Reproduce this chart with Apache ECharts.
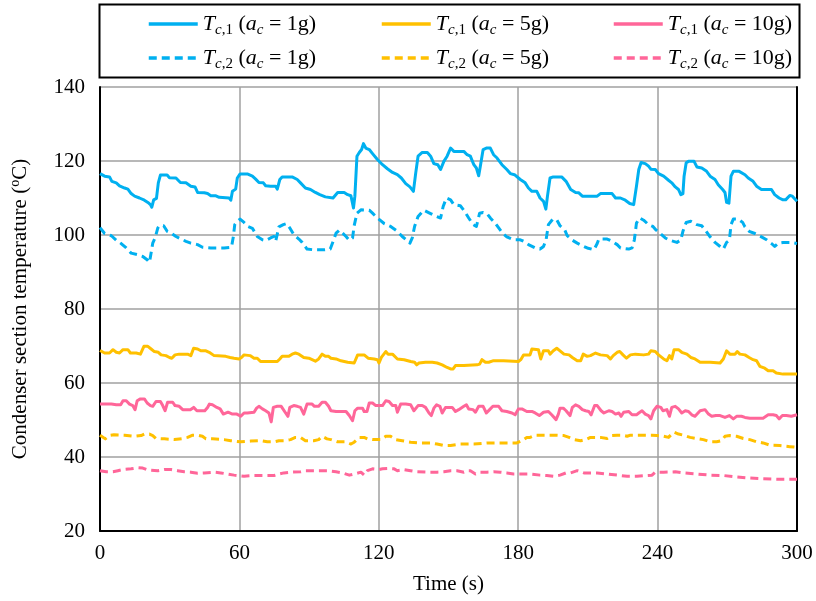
<!DOCTYPE html>
<html><head><meta charset="utf-8">
<script src="https://cdn.jsdelivr.net/npm/echarts@6/dist/echarts.min.js"></script>
<style>html,body{margin:0;padding:0;background:#fff}#c{width:816px;height:601px}</style>
</head><body><div id="c"></div>
<script>
// [time (s), temperature (°C)]
var tc1_1g = [[0,116.6],[0.6,116.5],[2.0,115.9],[4.1,115.7],[5.1,114.5],[7.0,114.1],[8.4,113.3],[10.6,112.7],[12.0,112.4],[13.4,111.2],[14.9,110.5],[17.0,110.0],[19.1,109.4],[20.6,108.8],[21.7,108.2],[22.3,107.5],[23.1,109.5],[24.3,109.9],[25.1,114.1],[26.0,116.2],[28.9,116.2],[29.9,115.5],[32.7,115.4],[34.6,114.2],[37.0,114.1],[39.1,113.2],[40.9,113.0],[42.0,111.5],[44.9,111.4],[46.3,111.2],[47.7,110.6],[49.9,110.6],[51.3,110.2],[55.6,110.0],[56.3,109.4],[57.0,111.8],[58.4,112.4],[59.1,115.4],[60.3,116.5],[63.4,116.5],[65.6,115.9],[67.0,115.1],[68.4,114.2],[70.3,114.1],[71.3,113.3],[73.4,113.2],[75.6,113.2],[76.3,112.4],[77.4,115.0],[78.4,115.7],[82.7,115.7],[84.9,115.0],[86.3,114.1],[88.4,112.7],[90.6,112.3],[92.7,111.5],[94.6,110.9],[97.0,110.3],[100.3,110.0],[101.1,110.0],[102.3,111.5],[105.1,111.5],[106.6,110.9],[108.0,110.6],[109.1,107.3],[109.7,110.5],[110.6,121.3],[111.6,122.3],[112.6,123.1],[113.4,124.7],[114.4,123.5],[115.9,123.1],[117.3,122.0],[119.4,120.4],[121.6,119.0],[123.7,117.9],[125.9,116.9],[128.0,116.3],[129.7,115.4],[131.6,113.9],[133.4,113.0],[134.9,111.8],[135.9,116.8],[136.9,121.3],[138.7,122.3],[140.9,122.3],[142.3,121.3],[143.7,119.3],[145.4,119.0],[146.6,117.7],[148.0,119.9],[149.4,121.3],[150.9,123.5],[152.3,122.6],[156.6,122.6],[158.0,121.7],[159.4,121.3],[160.9,119.0],[162.0,118.1],[163.0,116.0],[163.7,118.6],[164.9,123.1],[166.3,123.5],[168.0,123.5],[169.4,121.7],[170.9,120.8],[173.0,119.0],[175.1,117.7],[176.6,116.6],[178.4,116.3],[180.9,115.0],[183.0,114.1],[184.4,112.7],[185.9,111.8],[188.0,111.8],[189.4,110.0],[190.9,109.1],[191.9,107.0],[192.6,110.5],[193.7,115.4],[195.1,115.7],[198.7,115.7],[200.6,114.5],[201.1,114.1],[202.6,112.3],[204.7,111.5],[206.1,111.4],[207.6,110.5],[214.0,110.5],[215.4,111.2],[220.4,111.2],[221.9,110.0],[224.0,110.0],[226.1,109.4],[228.0,108.5],[229.7,108.2],[230.9,113.2],[231.9,117.7],[232.9,119.6],[234.7,119.3],[236.1,118.6],[237.1,117.8],[239.0,117.7],[240.4,116.6],[242.6,115.9],[244.7,114.8],[246.1,114.1],[247.6,113.0],[249.0,112.3],[250.0,110.9],[250.9,111.2],[251.4,115.9],[252.3,119.5],[253.3,119.9],[255.7,119.9],[256.9,118.4],[259.0,118.1],[261.1,117.2],[262.6,115.9],[264.7,115.0],[266.1,113.6],[268.0,112.3],[269.0,111.5],[269.7,108.8],[270.7,108.6],[271.6,115.9],[272.6,117.2],[275.1,117.2],[277.6,116.3],[279.0,115.4],[281.1,114.5],[282.6,113.2],[284.7,112.3],[289.0,112.3],[290.4,110.9],[292.3,110.0],[294.0,109.5],[295.1,109.5],[296.9,110.7],[298.0,110.5],[300,109.1]];
var tc2_1g = [[0,102.0],[0.6,101.9],[2.0,100.4],[4.9,99.8],[7.0,98.6],[9.1,97.7],[11.3,96.5],[13.4,95.1],[16.0,94.7],[18.4,94.2],[20.3,93.3],[21.3,92.6],[22.0,92.9],[22.7,97.8],[23.7,99.2],[24.9,101.9],[25.6,102.5],[27.4,102.5],[28.9,101.0],[30.9,100.4],[32.7,99.6],[34.9,98.9],[37.0,98.3],[39.1,97.8],[42.0,97.4],[44.1,96.7],[47.7,96.5],[53.4,96.5],[56.6,96.7],[57.4,99.6],[58.0,102.8],[59.1,103.7],[60.3,104.3],[62.0,103.4],[63.7,102.3],[65.6,101.8],[67.7,99.6],[69.9,98.7],[71.3,98.5],[73.4,99.2],[74.9,99.6],[75.6,98.3],[76.3,98.7],[77.0,102.2],[78.9,102.8],[80.3,103.1],[81.7,101.9],[83.4,100.1],[85.6,98.9],[87.0,98.0],[89.1,96.2],[92.0,96.0],[96.3,96.0],[99.1,96.2],[99.4,96.0],[100.6,98.7],[101.6,100.5],[103.0,101.3],[104.4,100.5],[105.9,99.6],[107.3,98.6],[108.7,99.2],[109.4,102.5],[110.6,105.9],[112.3,106.8],[115.9,106.7],[117.3,105.9],[119.4,104.6],[122.3,103.1],[125.1,102.3],[128.0,101.0],[130.1,99.6],[132.0,98.6],[133.4,97.8],[134.4,99.2],[135.4,102.3],[136.9,105.0],[139.4,106.7],[142.3,105.8],[144.9,105.0],[146.6,104.6],[147.7,107.7],[149.1,110.0],[150.9,109.5],[152.3,108.2],[155.1,107.9],[156.6,106.7],[158.7,104.6],[160.6,102.8],[162.0,102.3],[163.4,105.9],[164.9,106.1],[166.6,105.8],[168.0,104.6],[170.1,103.2],[171.6,101.9],[173.4,100.4],[175.1,99.5],[178.0,98.7],[180.9,98.7],[182.3,98.3],[184.4,97.4],[187.3,96.5],[189.4,96.2],[190.9,96.9],[192.0,98.7],[193.0,102.8],[194.9,104.3],[196.6,104.1],[198.0,102.5],[200.1,101.3],[201.1,99.8],[203.3,98.6],[205.4,97.8],[207.6,97.1],[209.7,96.5],[212.6,96.0],[214.0,97.7],[214.7,98.9],[218.3,98.9],[220.4,98.3],[222.6,97.4],[224.0,96.5],[227.6,96.2],[229.0,96.5],[230.0,98.7],[230.9,103.2],[232.3,104.6],[234.0,104.0],[236.1,102.8],[238.0,102.3],[239.4,101.3],[241.1,100.4],[243.3,99.2],[245.1,98.6],[248.3,98.0],[250.0,98.7],[250.9,101.0],[252.3,103.4],[254.3,103.7],[256.9,102.8],[259.0,102.5],[260.9,101.0],[262.6,99.5],[264.7,98.0],[266.9,96.9],[268.3,96.2],[269.7,98.0],[270.9,98.6],[271.6,102.8],[272.6,104.3],[274.7,104.3],[276.6,103.4],[277.6,102.2],[279.4,101.0],[281.9,100.4],[284.7,99.5],[286.9,98.7],[289.0,97.7],[290.4,96.9],[291.9,97.8],[294.0,98.0],[296.9,98.0],[300,97.7]];
var tc1_5g = [[0,68.8],[0.6,68.7],[2.0,68.1],[4.1,68.1],[5.6,69.0],[7.0,68.3],[8.4,68.1],[9.9,69.0],[12.0,69.0],[13.1,68.1],[15.6,68.1],[17.4,67.8],[18.0,67.4],[18.9,69.9],[20.6,69.9],[22.0,69.2],[23.4,68.5],[25.1,68.3],[26.3,67.6],[28.4,67.4],[29.9,66.9],[30.9,66.7],[32.3,67.6],[34.1,67.8],[37.7,67.8],[39.1,67.4],[40.3,69.4],[42.0,69.2],[43.4,68.7],[45.6,68.7],[47.0,68.3],[49.1,67.4],[54.1,67.2],[56.0,66.9],[57.7,66.7],[59.9,66.5],[60.9,66.9],[62.0,67.6],[64.6,67.4],[66.3,66.7],[67.7,66.7],[69.1,65.8],[76.3,65.8],[77.4,66.5],[78.4,67.2],[81.3,67.2],[82.7,67.8],[84.1,68.1],[85.6,67.8],[87.7,66.9],[89.9,66.7],[91.3,66.3],[92.7,65.9],[94.1,66.5],[95.6,67.8],[97.0,67.2],[98.4,67.2],[99.4,66.7],[101.6,66.5],[103.7,66.0],[106.6,65.6],[109.4,65.4],[110.9,67.6],[113.7,67.6],[115.4,66.7],[118.0,66.5],[119.4,66.3],[120.1,65.4],[121.1,66.9],[123.0,68.5],[124.0,67.8],[125.9,67.8],[128.0,66.5],[130.9,66.3],[133.7,65.8],[135.4,65.6],[136.3,64.9],[137.3,65.4],[140.1,65.6],[143.0,65.6],[145.1,65.4],[147.3,64.9],[149.4,64.2],[150.9,63.8],[152.0,63.8],[153.0,64.7],[156.6,64.7],[162.3,64.9],[163.4,65.1],[164.4,66.3],[165.9,65.6],[167.3,65.6],[169.1,66.0],[173.7,66.0],[180.1,65.8],[181.1,66.3],[182.3,67.6],[185.1,67.6],[185.9,69.2],[188.7,69.0],[189.7,66.5],[190.9,68.7],[193.0,68.7],[193.7,67.8],[195.1,68.7],[196.6,69.4],[198.0,68.7],[199.7,67.8],[201.9,67.6],[203.3,66.9],[205.4,66.0],[206.9,66.0],[208.0,67.8],[209.7,67.2],[211.1,67.4],[213.3,68.1],[215.4,67.6],[218.3,67.4],[219.7,66.5],[220.9,67.4],[222.6,68.3],[223.7,68.5],[225.1,67.6],[226.6,66.7],[228.3,67.6],[230.4,67.8],[234.0,67.6],[236.1,67.8],[237.1,68.7],[239.0,68.5],[240.4,67.6],[242.6,66.5],[244.0,66.0],[245.1,67.4],[246.1,66.5],[247.1,69.0],[249.0,69.0],[250.4,68.3],[252.6,67.8],[254.3,66.9],[256.1,66.5],[258.3,65.6],[262.6,65.6],[266.9,65.4],[268.3,66.5],[269.7,68.7],[271.1,67.8],[273.3,67.8],[274.3,68.5],[275.4,67.8],[277.6,67.6],[279.4,66.9],[281.1,66.3],[282.6,66.0],[284.0,64.5],[286.1,64.0],[287.6,63.3],[289.7,63.3],[291.1,62.7],[294.0,62.4],[300,62.4]];
var tc2_5g = [[0,45.9],[0.6,45.8],[2.3,44.9],[4.1,45.8],[6.0,46.0],[10.6,45.9],[14.9,45.6],[17.7,45.8],[19.1,46.2],[21.3,46.2],[22.7,45.8],[24.1,45.0],[27.7,44.9],[32.0,44.7],[35.6,45.0],[37.7,45.3],[39.9,45.9],[42.0,45.9],[44.1,45.6],[45.6,44.9],[48.4,44.9],[53.4,44.7],[56.3,44.4],[60.6,44.1],[64.9,44.3],[69.1,44.4],[72.0,44.1],[74.9,44.1],[77.0,44.4],[79.1,44.4],[82.0,44.7],[84.1,45.3],[86.3,45.3],[88.4,44.4],[92.0,44.4],[94.1,44.7],[95.6,45.6],[97.7,44.9],[99.4,44.7],[102.3,44.1],[105.9,44.1],[108.0,43.5],[109.4,44.0],[111.6,45.3],[113.7,45.3],[115.1,44.9],[117.3,44.7],[120.9,44.7],[123.0,45.6],[125.1,45.6],[127.3,44.7],[130.1,44.4],[133.7,44.0],[138.0,43.8],[142.3,43.8],[145.1,43.5],[148.0,43.1],[150.9,43.1],[155.1,43.5],[160.9,43.5],[166.6,43.8],[170.9,43.8],[175.1,43.8],[179.4,43.8],[181.6,44.4],[183.7,45.3],[185.1,45.3],[187.3,45.9],[190.9,45.9],[196.6,45.9],[199.7,45.8],[201.9,45.3],[204.0,44.7],[206.9,44.4],[209.0,44.7],[211.1,45.3],[215.4,45.3],[218.3,45.0],[220.4,45.8],[222.6,45.9],[224.7,45.9],[226.9,45.6],[228.3,45.9],[234.0,45.9],[237.6,45.9],[239.7,45.8],[242.6,45.6],[244.7,45.3],[246.1,46.2],[247.1,46.7],[249.0,46.2],[251.1,45.9],[254.0,45.3],[256.9,45.0],[259.7,44.7],[262.6,44.1],[265.4,44.1],[267.6,44.4],[269.0,45.6],[271.1,45.8],[274.0,45.6],[276.9,45.0],[279.7,44.7],[282.6,44.1],[285.4,43.8],[288.3,43.2],[292.6,43.1],[296.9,42.8],[300,42.6]];
var tc1_10g = [[0,54.3],[4.9,54.3],[7.0,54.1],[8.9,54.1],[9.9,55.2],[11.3,55.2],[12.7,54.3],[14.1,53.9],[15.1,52.8],[16.0,55.2],[17.4,55.7],[19.1,55.7],[20.3,54.6],[21.7,53.9],[22.7,53.7],[24.1,55.0],[26.0,55.0],[27.0,53.9],[28.0,52.5],[29.1,54.8],[31.3,54.8],[32.3,53.9],[34.1,53.7],[35.6,52.8],[38.9,52.8],[40.3,53.4],[41.7,52.5],[45.1,52.5],[46.3,53.4],[47.1,54.3],[48.4,54.1],[50.3,53.4],[51.7,53.0],[53.1,51.6],[55.1,52.1],[57.0,51.6],[58.9,51.6],[60.6,51.0],[62.0,51.9],[63.4,51.9],[66.3,52.1],[67.4,53.2],[68.4,53.7],[69.9,53.0],[71.3,52.5],[72.7,51.9],[73.7,49.5],[74.6,53.4],[76.3,53.7],[78.0,53.7],[79.9,51.9],[80.9,51.0],[81.7,53.4],[83.4,53.9],[84.9,53.7],[86.3,53.4],[87.7,51.6],[89.1,54.3],[91.3,54.3],[92.3,53.7],[94.1,53.7],[95.6,54.8],[97.0,54.8],[98.4,53.7],[99.4,52.5],[101.6,52.3],[105.9,52.3],[107.3,51.2],[108.7,49.8],[109.7,52.5],[110.9,53.2],[113.0,53.2],[113.7,52.3],[114.9,52.3],[115.9,54.6],[117.3,54.6],[118.7,53.9],[121.6,53.9],[123.0,55.2],[124.4,55.0],[125.9,53.9],[127.3,53.9],[128.0,52.1],[129.4,54.3],[131.6,54.3],[133.7,54.1],[135.1,52.5],[135.9,52.5],[136.9,53.9],[138.7,53.9],[140.1,53.4],[141.6,51.9],[142.6,51.2],[143.7,53.2],[144.9,54.1],[146.3,53.7],[147.3,51.9],[148.7,53.4],[151.6,53.4],[153.0,52.3],[154.4,52.8],[156.6,53.7],[157.7,54.1],[158.7,53.0],[160.6,52.8],[161.6,52.1],[163.0,53.7],[164.9,53.7],[166.3,51.9],[167.7,52.8],[169.1,53.7],[171.6,53.7],[173.0,52.5],[175.1,52.3],[177.3,51.9],[178.7,51.4],[180.1,53.0],[181.6,53.0],[183.7,52.3],[185.9,52.3],[187.3,51.9],[189.1,51.2],[190.9,52.1],[193.0,52.3],[194.4,51.4],[196.3,50.1],[197.3,51.6],[198.0,53.2],[199.4,53.2],[200.6,52.5],[201.1,52.1],[202.3,51.2],[203.3,53.4],[204.7,54.1],[206.1,53.7],[207.6,52.8],[209.0,52.5],[210.4,52.3],[211.4,51.4],[212.9,53.9],[214.0,53.9],[215.7,52.5],[216.9,51.9],[219.0,52.5],[220.4,52.3],[221.9,51.6],[223.3,51.9],[224.3,51.0],[225.4,52.1],[227.6,52.3],[229.0,51.4],[230.9,51.4],[231.9,51.9],[233.3,52.5],[234.7,51.6],[236.1,51.2],[237.1,50.3],[238.3,52.5],[239.7,53.7],[241.4,53.4],[242.3,52.5],[244.0,52.8],[245.1,51.0],[246.1,53.4],[247.6,53.7],[249.0,53.0],[250.4,51.9],[251.9,52.5],[253.3,52.3],[254.7,51.4],[256.1,51.0],[258.3,52.5],[260.4,52.8],[261.9,51.6],[263.3,51.0],[265.1,51.2],[266.9,51.2],[269.0,50.7],[270.9,51.2],[272.6,50.3],[274.0,51.0],[276.1,51.0],[277.6,50.7],[279.7,50.5],[285.4,50.5],[287.6,51.4],[289.7,51.4],[291.1,51.2],[292.3,50.3],[293.7,51.2],[295.4,51.2],[297.6,51.0],[300,51.4]];
var tc2_10g = [[0,36.3],[2.7,36.0],[5.6,36.0],[7.7,36.3],[9.9,36.6],[13.4,36.8],[16.3,37.1],[18.4,37.0],[20.6,36.5],[24.9,36.3],[27.7,36.6],[30.6,36.6],[33.4,36.3],[36.3,36.0],[39.1,35.9],[42.0,35.6],[44.9,35.7],[49.1,35.9],[52.0,35.7],[54.9,35.4],[57.7,35.1],[62.0,34.8],[66.3,35.0],[72.0,35.0],[74.9,35.0],[77.0,35.4],[79.1,35.7],[82.0,35.9],[86.3,36.0],[88.4,36.3],[93.4,36.3],[97.7,36.3],[101.6,36.0],[104.4,35.7],[107.3,35.1],[109.4,35.4],[112.3,35.9],[113.7,35.1],[115.1,36.3],[117.3,36.8],[120.1,36.6],[121.6,36.8],[124.4,36.9],[126.6,36.8],[128.0,36.3],[130.9,36.6],[133.7,36.3],[136.6,36.0],[140.9,35.9],[145.1,35.9],[148.0,36.0],[150.9,36.3],[153.7,36.3],[156.6,35.9],[158.0,36.3],[159.4,36.3],[161.6,35.4],[163.7,35.9],[166.6,35.9],[169.4,36.0],[172.3,35.9],[175.1,35.7],[178.0,35.4],[185.1,35.4],[189.4,35.1],[192.3,35.0],[195.1,34.8],[198.0,35.1],[200.6,35.7],[202.6,35.7],[205.4,36.3],[206.9,36.0],[208.3,35.7],[214.0,35.7],[218.3,35.4],[222.6,35.1],[226.9,34.8],[231.1,34.8],[235.4,35.0],[237.6,35.1],[239.0,35.9],[242.6,35.9],[247.6,36.0],[251.1,35.7],[256.9,35.4],[262.6,35.1],[268.3,35.0],[274.0,34.6],[279.7,34.3],[285.4,34.1],[291.1,34.0],[300,34.0]];

var xTicks = [0, 60, 120, 180, 240, 300];
var yTicks = [20, 40, 60, 80, 100, 120, 140];
var seriesNames = ['T1_1g','T1_5g','T1_10g','T2_1g','T2_5g','T2_10g'];
var legendLabels = {
  'T1_1g': ['1', '1'], 'T1_5g': ['1', '5'], 'T1_10g': ['1', '10'],
  'T2_1g': ['2', '1'], 'T2_5g': ['2', '5'], 'T2_10g': ['2', '10']
};

var BLUE = '#00B0F0', YEL = '#FFC000', PINK = '#FF6699';
var FONT = '"Liberation Serif", "Times New Roman", serif';

function mk(name, data, color, dashed) {
  return {
    name: name, type: 'line', data: data, symbol: 'none', smooth: false,
    lineStyle: { color: color, width: 3, type: dashed ? [8, 5] : 'solid', cap: 'butt', join: 'round' },
    itemStyle: { color: color },
    animation: false
  };
}

var rich = {
  ti: { fontFamily: FONT, fontSize: 22, fontStyle: 'italic', color: '#000', lineHeight: 28 },
  n: { fontFamily: FONT, fontSize: 22, color: '#000', lineHeight: 28 },
  sc: { fontFamily: FONT, fontSize: 15, fontStyle: 'italic', color: '#000', lineHeight: 16, verticalAlign: 'bottom' },
  sn: { fontFamily: FONT, fontSize: 15, color: '#000', lineHeight: 16, verticalAlign: 'bottom' }
};
function fmt(name) {
  var l = legendLabels[name];
  return '{ti|T}{sc|c}{sn|,' + l[0] + '}{n| (}{ti|a}{sc|c}{n| = ' + l[1] + 'g)}';
}
var colLeft = [147, 380, 612];
var rowTop = [13, 47];
var legends = seriesNames.map(function (nm, i) {
  return {
    data: [nm], left: colLeft[i % 3], top: rowTop[Math.floor(i / 3)],
    itemWidth: 49, itemHeight: 2, itemGap: 5, selectedMode: false,
    itemStyle: { opacity: 0, borderWidth: 0 },
    lineStyle: { width: 3.5 },
    formatter: fmt, textStyle: { rich: rich }, padding: 0
  };
});

var chart = echarts.init(document.getElementById('c'), null, { renderer: 'canvas' });
chart.setOption({
  backgroundColor: '#fff',
  animation: false,
  legend: legends,
  graphic: [{
    type: 'rect', left: 97, top: 2, shape: { width: 700, height: 73 },
    style: { fill: 'none', stroke: '#000', lineWidth: 2 }, silent: true
  }],
  grid: { left: 97, right: 19, top: 87, bottom: 70 },
  xAxis: {
    type: 'value', min: xTicks[0], max: xTicks[xTicks.length - 1], interval: 60,
    name: 'Time (s)', nameLocation: 'middle', nameGap: 43,
    nameTextStyle: { fontFamily: FONT, fontSize: 21, color: '#000' },
    axisLine: { show: true, lineStyle: { color: '#000', width: 2 } },
    axisTick: { show: false },
    axisLabel: { fontFamily: FONT, fontSize: 21, color: '#000', margin: 12 },
    splitLine: { show: true, lineStyle: { color: '#A0A0A0', width: 1.5 } }
  },
  yAxis: [{
    type: 'value', min: yTicks[0], max: yTicks[yTicks.length - 1], interval: 20,
    name: '{a|Condenser section temperature (}{b|o}{a|C)}', nameLocation: 'middle', nameGap: 68, nameRotate: 90,
    nameTextStyle: { rich: {
      a: { fontFamily: FONT, fontSize: 21, color: '#000', lineHeight: 24 },
      b: { fontFamily: FONT, fontSize: 14, color: '#000', lineHeight: 24, verticalAlign: 'top' }
    } },
    axisLine: { show: true, lineStyle: { color: '#000', width: 2 } },
    axisTick: { show: false },
    axisLabel: { fontFamily: FONT, fontSize: 21, color: '#000', margin: 15 },
    splitLine: { show: true, lineStyle: { color: '#A0A0A0', width: 1.5 } }
  }, {
    type: 'value', position: 'right', min: 20, max: 140, interval: 20,
    axisLine: { show: true, onZero: false, lineStyle: { color: '#000', width: 2 } },
    axisTick: { show: false }, axisLabel: { show: false }, splitLine: { show: false }
  }],
  series: [
    mk('T1_1g', tc1_1g, BLUE, false),
    mk('T1_5g', tc1_5g, YEL, false),
    mk('T1_10g', tc1_10g, PINK, false),
    mk('T2_1g', tc2_1g, BLUE, true),
    mk('T2_5g', tc2_5g, YEL, true),
    mk('T2_10g', tc2_10g, PINK, true)
  ]
});
</script></body></html>
